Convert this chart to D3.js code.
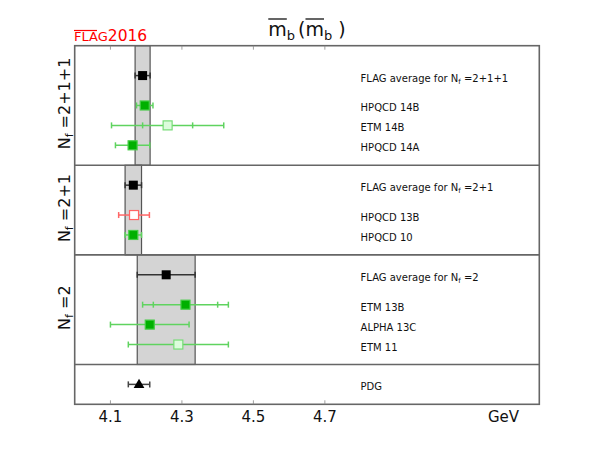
<!DOCTYPE html>
<html lang="en">
<head>
    <meta charset="UTF-8">
    <title>m_b(m_b) FLAG 2016</title>
    <script src="https://d3js.org/d3.v7.min.js"></script>
    <style>
        body { margin: 0; background: #fff; font-family: 'DejaVu Sans', sans-serif; }
        svg text { font-family: 'DejaVu Sans', sans-serif; }
    </style>
</head>
<body>
<svg id="chart" width="600" height="450"></svg>
<script>
// --- Data ---
const groups = ["2+1+1", "2+1", "2"];
const avgValues = [4.190, 4.164, 4.256];
const avgErrors = [0.021, 0.023, 0.081];

const collabs = ["HPQCD 14B", "ETM 14B", "HPQCD 14A", "HPQCD 13B", "HPQCD 10", "ETM 13B", "ALPHA 13C", "ETM 11"];
const entryGroup = [0, 0, 0, 1, 1, 2, 2, 2];
const values = [4.196, 4.26, 4.162, 4.166, 4.164, 4.31, 4.21, 4.29];
const statErrors = [null, 0.07, null, null, null, 0.09, null, null];
const totalErrors = [0.023, 0.157, 0.048, 0.043, 0.023, 0.12, 0.11, 0.14];
const status = ["filled", "open", "filled", "red", "filled", "filled", "filled", "open"];

const pdgValue = 4.18;
const pdgErrLo = 0.03;
const pdgErrHi = 0.03;

const xTicks = [4.1, 4.3, 4.5, 4.7];
const xDomain = [4.0, 5.3];

// --- Layout: row slots per panel ---
let cursor = 0.5;
const panels = [];
const rowOf = {};
groups.forEach((g, gi) => {
    const items = collabs.map((c, i) => i).filter(i => entryGroup[i] === gi);
    const start = gi === 0 ? 0 : cursor;
    const avgRow = cursor + 1;
    items.forEach((idx, k) => { rowOf[idx] = cursor + 2.5 + k; });
    const end = cursor + 2.5 + items.length;
    panels.push({ gi, start, end, avgRow });
    cursor = end;
});
const pdgPanel = { start: cursor, end: cursor + 2, row: cursor + 1 };

const svg = d3.select("#chart");
const x = d3.scaleLinear().domain(xDomain).range([74.7, 539.3]);
const y = d3.scaleLinear().domain([0, pdgPanel.end]).range([45.7, 404.3]);

const frameColor = "#666";
const greenFill = "#00b000", greenStroke = "#44cc44", greenBar = "#5fd35f";
const openFill = "#dcfcdc", openStroke = "#77dd77";
const redStroke = "#ff6666";

// Averaging bands
panels.forEach(p => {
    svg.append("rect")
        .attr("x", x(avgValues[p.gi] - avgErrors[p.gi]))
        .attr("y", y(p.start))
        .attr("width", x(avgValues[p.gi] + avgErrors[p.gi]) - x(avgValues[p.gi] - avgErrors[p.gi]))
        .attr("height", y(p.end) - y(p.start))
        .attr("fill", "#d4d4d4")
        .attr("stroke", "#555")
        .attr("stroke-width", 1.2);
});

// Frame and panel separators
svg.append("rect")
    .attr("x", x(xDomain[0])).attr("y", y(0))
    .attr("width", x(xDomain[1]) - x(xDomain[0]))
    .attr("height", y(pdgPanel.end) - y(0))
    .attr("fill", "none").attr("stroke", frameColor).attr("stroke-width", 1.6);

panels.forEach(p => {
    svg.append("line")
        .attr("x1", x(xDomain[0])).attr("x2", x(xDomain[1]))
        .attr("y1", y(p.end)).attr("y2", y(p.end))
        .attr("stroke", frameColor).attr("stroke-width", 1.6);
});

// Ticks (inside, top and bottom)
const tickG = svg.append("g");
xTicks.forEach(t => {
    tickG.append("line").attr("x1", x(t)).attr("x2", x(t))
        .attr("y1", y(0)).attr("y2", y(0) + 4).attr("stroke", "#888").attr("stroke-width", 0.8);
    tickG.append("line").attr("x1", x(t)).attr("x2", x(t))
        .attr("y1", y(pdgPanel.end)).attr("y2", y(pdgPanel.end) - 4).attr("stroke", "#888").attr("stroke-width", 0.8);
    tickG.append("text").attr("x", x(t)).attr("y", 422)
        .attr("text-anchor", "middle").attr("font-size", 15).attr("fill", "#111")
        .text(d3.format(".1f")(t));
});
svg.append("text").attr("x", x(5.2)).attr("y", 422)
    .attr("text-anchor", "middle").attr("font-size", 15).attr("fill", "#111").text("GeV");

// Error bar helper
function errBar(v, lo, hi, row, color, inner) {
    const g = svg.append("g").attr("stroke", color).attr("stroke-width", 1.5);
    const yy = y(row);
    g.append("line").attr("x1", x(v - lo)).attr("x2", x(v + hi)).attr("y1", yy).attr("y2", yy);
    [v - lo, v + hi].concat(inner != null ? [v - inner, v + inner] : []).forEach(e => {
        g.append("line").attr("x1", x(e)).attr("x2", x(e)).attr("y1", yy - 3).attr("y2", yy + 3);
    });
}

const labelX = x(4.8);
function label(row, parts) {
    const t = svg.append("text").attr("x", labelX).attr("y", y(row) + 6)
        .attr("font-size", 10).attr("fill", "#111");
    parts.forEach(pt => {
        const s = t.append("tspan").text(pt.text);
        if (pt.sub) s.attr("font-size", 7).attr("dy", 2);
        if (pt.up) s.attr("dy", -2);
    });
}

// Averages
panels.forEach(p => {
    const v = avgValues[p.gi], e = avgErrors[p.gi];
    errBar(v, e, e, p.avgRow, "#333");
    svg.append("rect").attr("x", x(v) - 4.5).attr("y", y(p.avgRow) - 4.5)
        .attr("width", 9).attr("height", 9).attr("fill", "#000");
    label(p.avgRow, [{ text: "FLAG average for N" }, { text: "f", sub: true }, { text: " =" + groups[p.gi], up: true }]);
});

// Individual results
collabs.forEach((c, i) => {
    const row = rowOf[i];
    const st = status[i];
    const barColor = st === "red" ? redStroke : greenBar;
    errBar(values[i], totalErrors[i], totalErrors[i], row, barColor, statErrors[i]);
    svg.append("rect").attr("x", x(values[i]) - 4.5).attr("y", y(row) - 4.5)
        .attr("width", 9).attr("height", 9)
        .attr("fill", st === "filled" ? greenFill : st === "open" ? openFill : "#fff")
        .attr("stroke", st === "filled" ? greenStroke : st === "open" ? openStroke : redStroke)
        .attr("stroke-width", 1.2);
    label(row, [{ text: c }]);
});

// PDG
errBar(pdgValue, pdgErrLo, pdgErrHi, pdgPanel.row, "#444");
svg.append("path")
    .attr("d", d3.symbol(d3.symbolTriangle, 50)())
    .attr("transform", `translate(${x(pdgValue)},${y(pdgPanel.row) + 0.5})`)
    .attr("fill", "#000");
label(pdgPanel.row, [{ text: "PDG" }]);

// Y-axis group labels
panels.forEach(p => {
    const cy = (y(p.start) + y(p.end)) / 2 - 2;
    const t = svg.append("text")
        .attr("transform", `translate(70,${cy}) rotate(-90)`)
        .attr("text-anchor", "middle").attr("font-size", 16).attr("fill", "#111");
    t.append("tspan").text("N");
    t.append("tspan").text("f").attr("font-size", 11).attr("dy", 3);
    t.append("tspan").text(" =" + groups[p.gi]).attr("dy", -3);
});

// Title with overlines
const title = svg.append("text").attr("x", 307).attr("y", 36)
    .attr("text-anchor", "middle").attr("font-size", 19).attr("fill", "#111");
title.append("tspan").text("m");
title.append("tspan").text("b").attr("font-size", 13).attr("dy", 4);
title.append("tspan").text("(").attr("dy", -4).attr("dx", 3);
title.append("tspan").text("m");
title.append("tspan").text("b").attr("font-size", 13).attr("dy", 4);
title.append("tspan").text(" )").attr("dy", -4);
const tn = title.node();
[0, 3].forEach(ci => {
    const s = tn.getStartPositionOfChar(ci), e = tn.getEndPositionOfChar(ci);
    svg.append("line").attr("x1", s.x).attr("x2", e.x).attr("y1", 19).attr("y2", 19)
        .attr("stroke", "#111").attr("stroke-width", 1.3);
});

// FLAG logo
const logo = svg.append("text").attr("x", 74).attr("y", 40.5).attr("fill", "#ff0000");
logo.append("tspan").text("FLAG").attr("font-size", 13);
logo.append("tspan").text("2016").attr("font-size", 15.5);
svg.append("line").attr("x1", 74).attr("x2", 97).attr("y1", 30.5).attr("y2", 30.5)
    .attr("stroke", "#ff0000").attr("stroke-width", 1.2);
</script>
</body>
</html>
